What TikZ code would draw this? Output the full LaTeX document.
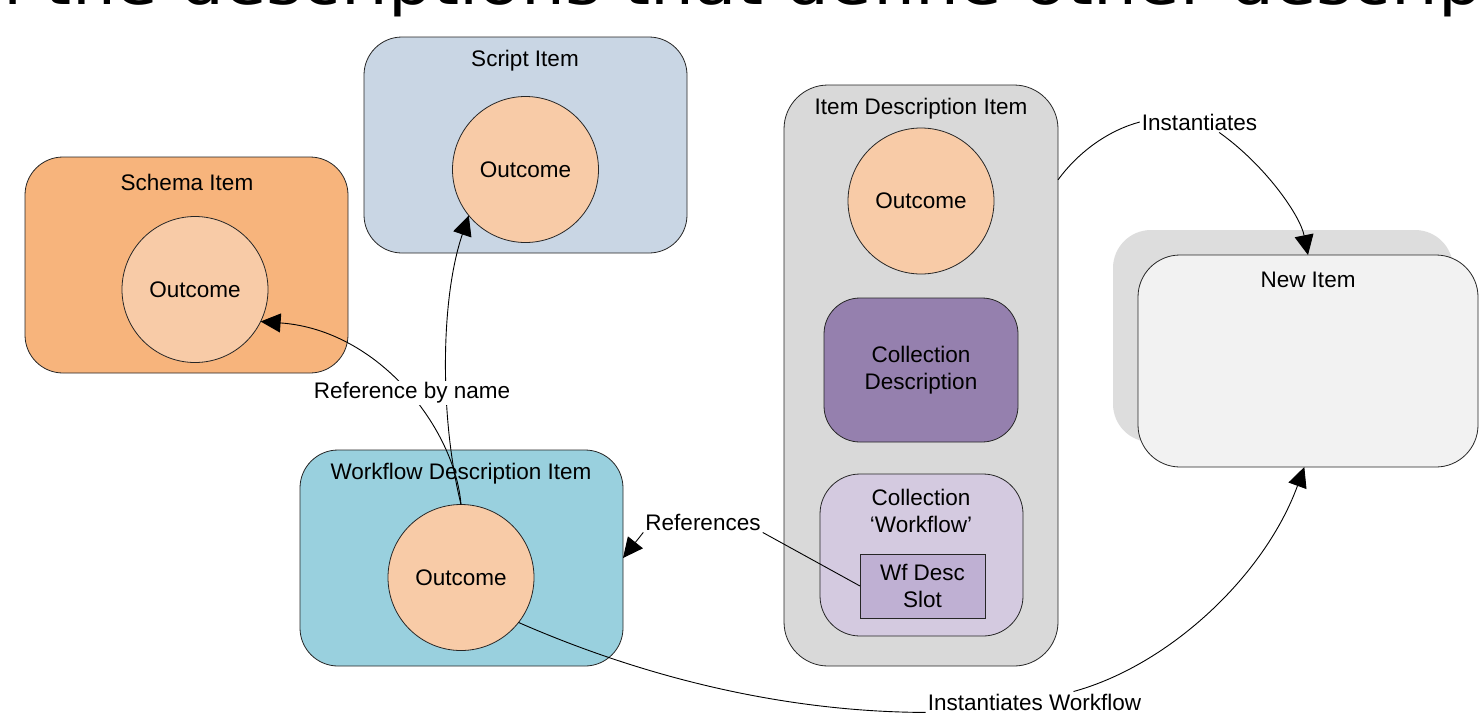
\documentclass[tikz,border=0pt]{standalone}
\usepackage{fontspec}
\setmainfont{Liberation Sans}
\newfontfamily\titlefont{DejaVu Sans}
\usetikzlibrary{arrows.meta}

\definecolor{schemafill}{HTML}{F7B47C}
\definecolor{scriptfill}{HTML}{C9D6E4}
\definecolor{outcomefill}{HTML}{F8CBA7}
\definecolor{itemfill}{HTML}{D9D9D9}
\definecolor{colldescfill}{HTML}{9580AE}
\definecolor{collwffill}{HTML}{D4CAE0}
\definecolor{slotfill}{HTML}{BFB0D3}
\definecolor{wffill}{HTML}{99D0DE}
\definecolor{newfill}{HTML}{F2F2F2}
\definecolor{shadowfill}{HTML}{DDDDDD}

\tikzset{
  itembox/.style={draw=black!85, line width=0.8pt, rounded corners=38pt,
    inner sep=0pt, outer sep=0pt},
  outcome/.style={circle, draw=black!85, line width=0.8pt, fill=outcomefill,
    minimum size=146pt, inner sep=0pt, outer sep=0pt,
    font=\fontsize{22.5}{27}\selectfont},
  txt/.style={font=\fontsize{22.5}{27}\selectfont, align=center, inner sep=0pt},
  lbl/.style={font=\fontsize{22.5}{27}\selectfont, fill=white, inner sep=2pt},
  conn/.style={line width=0.9pt, draw=black},
  arr/.style={conn, -{Triangle[length=20pt,width=19pt]}},
}

\begin{document}
\begin{tikzpicture}[x=1pt, y=-1pt]
\useasboundingbox[fill=white] (0,0) rectangle (1479,713);

% heading, mostly above the page edge
\begin{scope}
\clip (0,0) rectangle (1479,713);
\node[anchor=base west, font=\titlefont\fontsize{60}{72}\selectfont, inner sep=0pt]
  (heading) at (-63,4) {\scalebox{1.153}[1]{All the descriptions that define other descriptions}};
\end{scope}

% Schema item
\node[itembox, fill=schemafill, minimum width=323pt, minimum height=216pt]
  (schema) at (186.5,265) {};
\node[txt] (schemaT) at (187,182) {Schema Item};
\node[outcome] (so) at (195,289.5) {Outcome};

% Script item
\node[itembox, fill=scriptfill, minimum width=323pt, minimum height=216pt]
  (script) at (525.5,145) {};
\node[txt] (scriptT) at (525,61) {Script Item};
\node[outcome] (sco) at (525.5,169.5) {Outcome};

% Item description item
\node[itembox, fill=itemfill, rounded corners=44pt, minimum width=274pt, minimum height=581pt]
  (idbox) at (921,375.5) {};
\node[txt] (idT) at (921,109) {Item Description Item};
\node[outcome] (ido) at (921,201) {Outcome};
\node[itembox, fill=colldescfill, rounded corners=36pt, minimum width=194pt, minimum height=144pt,
  txt] (colldesc) at (921,370) {Collection\\Description};
\node[itembox, fill=collwffill, rounded corners=40pt, minimum width=203pt, minimum height=162pt]
  (collwf) at (921.5,555) {};
\node[txt] (collwfT) at (921,511) {Collection\\‘Workflow’};
\node[draw=black!85, line width=0.8pt, fill=slotfill, minimum width=125pt, minimum height=64pt,
  outer sep=0pt, txt] (slot) at (922.5,586) {Wf Desc\\Slot};

% Workflow description item
\node[itembox, fill=wffill, minimum width=323pt, minimum height=216pt]
  (wfbox) at (461.5,558) {};
\node[txt] (wfT) at (461,474) {Workflow Description Item};
\node[outcome] (wfo) at (461,577.5) {Outcome};

% New item with its backing shadow
\node[rounded corners=38pt, fill=shadowfill, minimum width=340pt, minimum height=212pt,
  inner sep=0pt] (newshadow) at (1283,336) {};
\node[itembox, fill=newfill, rounded corners=42pt, minimum width=340pt, minimum height=212pt]
  (newitem) at (1308,361) {};
\node[txt] (newT) at (1308,280) {New Item};

% connectors
\draw[arr] (wfo.north) .. controls (455,430) and (380,330) .. (so.-26);
\draw[arr] (wfo.north) .. controls (440,420) and (440,300) .. (sco.-141);
\node[lbl] (refname) at (412,393) {Reference by name};

\node[lbl] (reflbl) at (703,522) {References};
\draw[conn] (slot.west) -- (reflbl.south east);
\draw[arr] (reflbl.south west) -- (wfbox.east);

\node[lbl] (instlbl) at (1199.5,122) {Instantiates};
\draw[conn] (idbox.55.7) .. controls (1080,150) and (1110,130) .. (instlbl.west);
\draw[arr] (instlbl.-28) .. controls (1265,165) and (1300,215) .. (newitem.north);

\node[lbl, anchor=base] (instwf) at (1034.5,710) {Instantiates Workflow};
\draw[conn] (wfo.-38.6) .. controls (650,680) and (790,712) .. (instwf.south west);
\draw[arr] (instwf.15) .. controls (1170,665) and (1265,575) .. (newitem.-92.7);
\end{tikzpicture}
\end{document}
